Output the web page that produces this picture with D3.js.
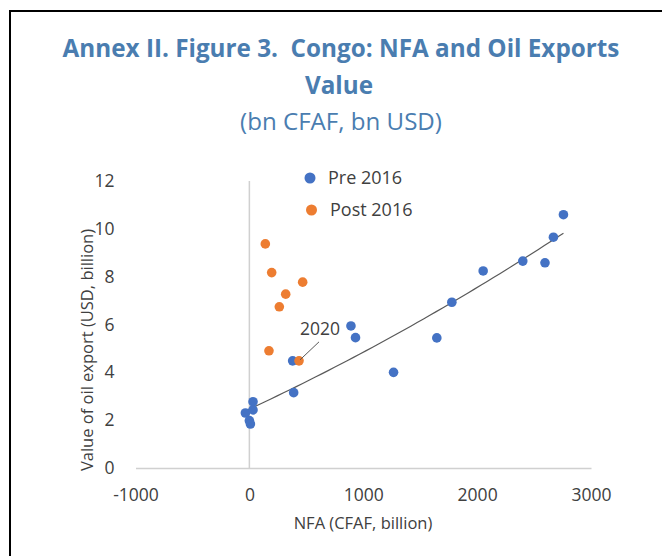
<!DOCTYPE html>
<html>
<head>
<meta charset="utf-8">
<script src="https://cdn.jsdelivr.net/npm/d3@7"></script>
<style>
  body { margin: 0; background: #fff; }
  svg { display: block; }
  text { white-space: pre; }
</style>
</head>
<body>
<svg id="chart" width="662" height="556"></svg>
<script>
// Pre 2016 (blue) - NFA in bn CFAF, oil exports in bn USD
const preNFA = [-35, 32, 32, 0, 9, 380, 389, 892, 932, 1266, 1646, 1778, 2053, 2401, 2596, 2670, 2758];
const preOil = [2.30, 2.77, 2.43, 1.98, 1.84, 4.48, 3.15, 5.94, 5.45, 4.00, 5.44, 6.93, 8.24, 8.65, 8.58, 9.65, 10.59];

// Post 2016 (orange), last one is 2020
const postNFA = [140, 196, 468, 319, 263, 172, 436];
const postOil = [9.37, 8.17, 7.77, 7.27, 6.74, 4.90, 4.48];

const xTicks = [-1000, 0, 1000, 2000, 3000];
const yTicks = [0, 2, 4, 6, 8, 10, 12];
const seriesNames = ["Pre 2016", "Post 2016"];
const annotation = { label: "2020", x: 436, y: 4.48 };

const blue = "#4472c4", orange = "#ed7d31", titleCol = "#4a7db0", textCol = "#404040";
const font = "'Open Sans', 'Noto Sans', sans-serif";

const svg = d3.select("#chart");

// frame (top + left rule of the box)
svg.append("line").attr("x1", 9).attr("x2", 662).attr("y1", 11).attr("y2", 11)
    .attr("stroke", "#000").attr("stroke-width", 2);
svg.append("line").attr("x1", 10).attr("x2", 10).attr("y1", 10).attr("y2", 556)
    .attr("stroke", "#000").attr("stroke-width", 2);

// title, fit to the width of the original
function fitText(sel, target) {
    const w = sel.node().getComputedTextLength();
    const fs = parseFloat(sel.attr("font-size"));
    sel.attr("font-size", fs * target / w);
}
const t1 = svg.append("text").attr("x", 341).attr("y", 57).attr("text-anchor", "middle")
    .attr("font-family", font).attr("font-weight", "bold").attr("font-size", 22)
    .attr("fill", titleCol).text("Annex II. Figure 3.  Congo: NFA and Oil Exports");
fitText(t1, 557);
svg.append("text").attr("x", 339).attr("y", 94).attr("text-anchor", "middle")
    .attr("font-family", font).attr("font-weight", "bold").attr("font-size", t1.attr("font-size"))
    .attr("fill", titleCol).text("Value");
const t3 = svg.append("text").attr("x", 341).attr("y", 130).attr("text-anchor", "middle")
    .attr("font-family", font).attr("font-size", 20)
    .attr("fill", titleCol).text("(bn CFAF, bn USD)");
fitText(t3, 202);

// scales
const x = d3.scaleLinear().domain([-1000, 3000]).range([135.5, 591]);
const y = d3.scaleLinear().domain([0, 12]).range([468, 181]);

// horizontal axis (y = 0)
const gx = svg.append("g").attr("transform", `translate(0,${y(0)})`)
    .call(d3.axisBottom(x).tickValues(xTicks).tickSize(0).tickPadding(21).tickFormat(d => String(d)));
gx.select(".domain").attr("stroke", "#d0d0d0").attr("stroke-width", 1.5);
gx.selectAll("text").attr("font-family", font).attr("font-size", 17.5).attr("fill", textCol);

// vertical axis line at x = 0, labels on the left edge
svg.append("line").attr("x1", x(0)).attr("x2", x(0)).attr("y1", y(0)).attr("y2", y(12))
    .attr("stroke", "#d0d0d0").attr("stroke-width", 1.5);
const gy = svg.append("g").attr("transform", `translate(${x(-1000)},0)`)
    .call(d3.axisLeft(y).tickValues(yTicks).tickSize(0).tickPadding(21));
gy.select(".domain").remove();
gy.selectAll("text").attr("font-family", font).attr("font-size", 17.5).attr("fill", textCol);

// axis titles
svg.append("text").attr("x", 363).attr("y", 529).attr("text-anchor", "middle")
    .attr("font-family", font).attr("font-size", 16.5).attr("fill", textCol)
    .text("NFA (CFAF, billion)");
svg.append("text").attr("transform", "translate(93,350) rotate(-90)").attr("text-anchor", "middle")
    .attr("font-family", font).attr("font-size", 16.5).attr("fill", textCol)
    .text("Value of oil export (USD, billion)");

// polynomial (order 2) trendline on the pre 2016 series
function quadFit(xs, ys) {
    const n = xs.length;
    let s = [0, 0, 0, 0, 0], t = [0, 0, 0];
    for (let i = 0; i < n; i++) {
        for (let k = 0; k < 5; k++) s[k] += Math.pow(xs[i], k);
        for (let k = 0; k < 3; k++) t[k] += ys[i] * Math.pow(xs[i], k);
    }
    const A = [[s[0], s[1], s[2], t[0]], [s[1], s[2], s[3], t[1]], [s[2], s[3], s[4], t[2]]];
    for (let c = 0; c < 3; c++) {
        for (let r = c + 1; r < 3; r++) {
            const f = A[r][c] / A[c][c];
            for (let k = c; k < 4; k++) A[r][k] -= f * A[c][k];
        }
    }
    const b = [0, 0, 0];
    for (let r = 2; r >= 0; r--) {
        let v = A[r][3];
        for (let k = r + 1; k < 3; k++) v -= A[r][k] * b[k];
        b[r] = v / A[r][r];
    }
    return b;
}
const coef = quadFit(preNFA, preOil);
const [xMin, xMax] = d3.extent(preNFA);
const trend = d3.range(0, 51).map(i => {
    const v = xMin + (xMax - xMin) * i / 50;
    return [v, coef[0] + coef[1] * v + coef[2] * v * v];
});
svg.append("path").datum(trend)
    .attr("d", d3.line().x(d => x(d[0])).y(d => y(d[1])))
    .attr("fill", "none").attr("stroke", "#595959").attr("stroke-width", 1.2);

// points
const pre = preNFA.map((v, i) => ({ x: v, y: preOil[i] }));
const post = postNFA.map((v, i) => ({ x: v, y: postOil[i] }));
svg.append("g").selectAll("circle").data(pre).join("circle")
    .attr("cx", d => x(d.x)).attr("cy", d => y(d.y)).attr("r", 4.8).attr("fill", blue);
svg.append("g").selectAll("circle").data(post).join("circle")
    .attr("cx", d => x(d.x)).attr("cy", d => y(d.y)).attr("r", 4.8).attr("fill", orange);

// 2020 label with leader line
const ax = x(annotation.x), ay = y(annotation.y);
svg.append("line").attr("x1", ax + 1).attr("y1", ay - 1).attr("x2", ax + 20).attr("y2", ay - 19)
    .attr("stroke", "#595959").attr("stroke-width", 1);
svg.append("text").attr("x", ax + 21).attr("y", ay - 26).attr("text-anchor", "middle")
    .attr("font-family", font).attr("font-size", 17.5).attr("fill", textCol).text(annotation.label);

// legend
const legend = svg.append("g");
[blue, orange].forEach((c, i) => {
    const ly = 178 + i * 32;
    legend.append("circle").attr("cx", 310 + i * 1.5).attr("cy", ly).attr("r", 5.5).attr("fill", c);
    legend.append("text").attr("x", 328 + i * 2).attr("y", ly).attr("dy", "0.35em")
        .attr("font-family", font).attr("font-size", 18).attr("fill", textCol).text(seriesNames[i]);
});
</script>
</body>
</html>
